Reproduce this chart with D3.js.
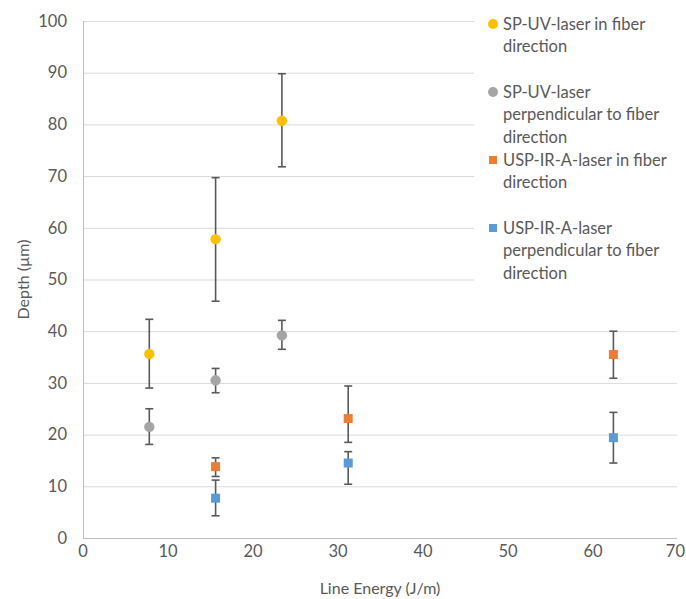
<!DOCTYPE html>
<html>
<head>
<meta charset="utf-8">
<script src="https://cdn.jsdelivr.net/npm/d3@7"></script>
<style>
  body { margin: 0; background: #fff; }
  text { font-family: Lato, "Open Sans", sans-serif; fill: #595959; }
</style>
</head>
<body>
<svg id="chart" width="686" height="599"></svg>
<script>
// data
var lineEnergy = [7.8, 15.6, 23.4, 31.2, 62.4];

var uvFiber = [35.6, 57.8, 80.7],
    uvFiberLow = [29.0, 45.8, 71.8],
    uvFiberHigh = [42.3, 69.7, 89.8];

var uvPerp = [21.5, 30.5, 39.2],
    uvPerpLow = [18.1, 28.1, 36.5],
    uvPerpHigh = [25.0, 32.8, 42.1];

var irFiber = [13.8, 23.1, 35.5],
    irFiberLow = [11.9, 18.5, 30.9],
    irFiberHigh = [15.5, 29.4, 40.0];

var irPerp = [7.7, 14.5, 19.4],
    irPerpLow = [4.3, 10.4, 14.5],
    irPerpHigh = [11.2, 16.7, 24.3];

var seriesNames = [
  ['SP-UV-laser in fiber', 'direction'],
  ['SP-UV-laser', 'perpendicular to fiber', 'direction'],
  ['USP-IR-A-laser in fiber', 'direction'],
  ['USP-IR-A-laser', 'perpendicular to fiber', 'direction']
];
var seriesColors = ['#FFC000', '#A5A5A5', '#ED7D31', '#5B9BD5'];
var seriesShapes = ['circle', 'circle', 'square', 'square'];

var xTicks = [0, 10, 20, 30, 40, 50, 60, 70],
    yTicks = [0, 10, 20, 30, 40, 50, 60, 70, 80, 90, 100];

function build(ys, lo, hi, xs) {
  return ys.map(function (y, i) {
    return { x: lineEnergy[xs[i]], y: y, lo: lo[i], hi: hi[i] };
  });
}

var series = [
  build(uvFiber, uvFiberLow, uvFiberHigh, [0, 1, 2]),
  build(uvPerp, uvPerpLow, uvPerpHigh, [0, 1, 2]),
  build(irFiber, irFiberLow, irFiberHigh, [1, 3, 4]),
  build(irPerp, irPerpLow, irPerpHigh, [1, 3, 4])
];

// scales
var x = d3.scaleLinear().domain([0, 70]).range([83, 678]),
    y = d3.scaleLinear().domain([0, 100]).range([538, 21]);

var svg = d3.select('#chart');

// gridlines
svg.append('g').selectAll('line')
    .data(yTicks.slice(1))
    .enter().append('line')
    .attr('x1', x(0))
    .attr('x2', 677)
    .attr('y1', function (d) { return y(d) + 0.5; })
    .attr('y2', function (d) { return y(d) + 0.5; })
    .attr('stroke', '#d9d9d9')
    .attr('stroke-width', 1);

// axes lines
svg.append('line')
    .attr('x1', x(0) + 0.5).attr('x2', x(0) + 0.5)
    .attr('y1', y(100)).attr('y2', y(0))
    .attr('stroke', '#bfbfbf');
svg.append('line')
    .attr('x1', x(0)).attr('x2', 677)
    .attr('y1', y(0) + 0.5).attr('y2', y(0) + 0.5)
    .attr('stroke', '#bfbfbf');

// tick labels
svg.append('g').selectAll('text')
    .data(yTicks)
    .enter().append('text')
    .attr('x', 67)
    .attr('y', function (d) { return y(d); })
    .attr('dy', '0.35em')
    .attr('text-anchor', 'end')
    .style('font-size', '16.5px')
    .text(function (d) { return d; });

svg.append('g').selectAll('text')
    .data(xTicks)
    .enter().append('text')
    .attr('y', 551)
    .attr('dy', '0.35em')
    .attr('text-anchor', 'middle')
    .style('font-size', '16.5px')
    .text(function (d) { return d; })
    .attr('x', function (d) {
      // keep the last label inside the window
      var half = this.getComputedTextLength() / 2;
      return Math.min(x(d), 685 - half);
    });

// axis titles
svg.append('text')
    .attr('transform', 'translate(23,' + (y(50)) + ') rotate(-90)')
    .attr('text-anchor', 'middle')
    .attr('dy', '0.35em')
    .style('font-size', '16px')
    .text('Depth (µm)');

svg.append('text')
    .attr('x', 380)
    .attr('y', 588)
    .attr('dy', '0.35em')
    .attr('text-anchor', 'middle')
    .style('font-size', '16px')
    .text('Line Energy (J/m)');

// legend background covers the plot corner
svg.append('rect')
    .attr('x', 474).attr('y', 0)
    .attr('width', 212).attr('height', 290)
    .attr('fill', '#fff');

// error bars + markers
series.forEach(function (pts, si) {
  var g = svg.append('g');

  var bars = g.selectAll('.err')
      .data(pts)
      .enter().append('g')
      .attr('stroke', '#595959')
      .attr('stroke-width', 1.6);
  bars.append('line')
      .attr('x1', function (d) { return x(d.x); })
      .attr('x2', function (d) { return x(d.x); })
      .attr('y1', function (d) { return y(d.lo); })
      .attr('y2', function (d) { return y(d.hi); });
  bars.append('line')
      .attr('x1', function (d) { return x(d.x) - 4; })
      .attr('x2', function (d) { return x(d.x) + 4; })
      .attr('y1', function (d) { return y(d.lo); })
      .attr('y2', function (d) { return y(d.lo); });
  bars.append('line')
      .attr('x1', function (d) { return x(d.x) - 4; })
      .attr('x2', function (d) { return x(d.x) + 4; })
      .attr('y1', function (d) { return y(d.hi); })
      .attr('y2', function (d) { return y(d.hi); });

  if (seriesShapes[si] === 'circle') {
    g.selectAll('circle')
        .data(pts)
        .enter().append('circle')
        .attr('cx', function (d) { return x(d.x); })
        .attr('cy', function (d) { return y(d.y); })
        .attr('r', 5.2)
        .attr('fill', seriesColors[si]);
  } else {
    g.selectAll('rect')
        .data(pts)
        .enter().append('rect')
        .attr('x', function (d) { return x(d.x) - 4.5; })
        .attr('y', function (d) { return y(d.y) - 4.5; })
        .attr('width', 9)
        .attr('height', 9)
        .attr('fill', seriesColors[si]);
  }
});

// legend
var legendTop = [24, 92, 160, 228];
seriesNames.forEach(function (lines, i) {
  var ly = legendTop[i];
  if (seriesShapes[i] === 'circle') {
    svg.append('circle')
        .attr('cx', 493).attr('cy', ly).attr('r', 5)
        .attr('fill', seriesColors[i]);
  } else {
    svg.append('rect')
        .attr('x', 489).attr('y', ly - 4)
        .attr('width', 8).attr('height', 8)
        .attr('fill', seriesColors[i]);
  }
  var t = svg.append('text')
      .attr('x', 503)
      .attr('y', ly)
      .style('font-size', '16.5px');
  lines.forEach(function (s, j) {
    t.append('tspan')
        .attr('x', 503)
        .attr('y', ly + j * 22.5)
        .attr('dy', '0.35em')
        .text(s);
  });
});
</script>
</body>
</html>
